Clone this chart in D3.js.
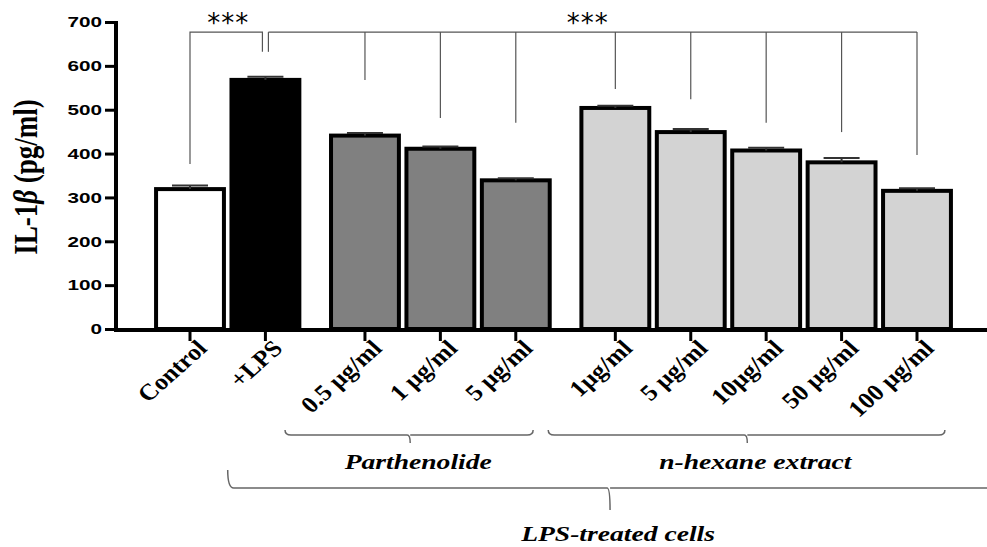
<!DOCTYPE html>
<html>
<head>
<meta charset="utf-8">
<script src="https://cdn.jsdelivr.net/npm/d3@7"></script>
<style>
  body { margin: 0; background: #fff; }
  svg { display: block; }
</style>
</head>
<body>
<script>
const w = 987;
const h = 547;
const SX = 1.38; // the original figure is stretched sideways, text follows it

// data
const categories = ["Control", "+LPS", "0.5 µg/ml", "1 µg/ml", "5 µg/ml",
  "1µg/ml", "5 µg/ml", "10µg/ml", "50 µg/ml", "100 µg/ml"];
const groups = ["none", "none", "parth", "parth", "parth", "hex", "hex", "hex", "hex", "hex"];
const kinds = ["control", "lps", "parth", "parth", "parth", "hex", "hex", "hex", "hex", "hex"];
const means = [319, 568, 441, 411, 339, 504, 449, 407, 380, 315];
const errors = [8, 7, 6, 5, 5, 5, 7, 6, 10, 6];
const yTicks = [0, 100, 200, 300, 400, 500, 600, 700];

// significance brackets: top level and where each leg stops (pg/ml)
const sigTop = 677;
const sigLeftLegs = [376, 632];               // Control, +LPS
const sigRightLegs = [632, 568, 481, 470, 547, 524, 470, 449, 397]; // +LPS .. 100 µg/ml
const sigStars = ["***", "***"];

// group brackets below the axis (in slot units)
const groupBrackets = [
  { label: "Parthenolide", from: 1.26, to: 4.55, mid: 2.92, level: 0 },
  { label: "n-hexane extract", from: 4.75, to: 10.01, mid: 7.39, level: 0 },
  { label: "LPS-treated cells", from: 0.5, to: 10.7, mid: 5.57, level: 1 }
];

const fills = { control: "#ffffff", lps: "#000000", parth: "#808080", hex: "#d3d3d3" };

const svg = d3.select("body").append("svg")
  .attr("width", w)
  .attr("height", h);

const axisX = 116;
const groupIndex = { none: 0, parth: 1, hex: 2 };
const slots = categories.map((c, i) => i + 0.32 * groupIndex[groups[i]]);

const x = d3.scaleLinear()
  .domain([0, d3.max(slots)])
  .range([190, 917]);
const step = x(1) - x(0);
const bw = step * 0.9;

const y = d3.scaleLinear()
  .domain([0, 700])
  .range([329, 22]);

// y axis
const yAxis = svg.append("g")
  .attr("transform", "translate(" + axisX + ",0)")
  .call(d3.axisLeft(y).tickValues(yTicks).tickSize(11).tickSizeOuter(0).tickFormat(d3.format("d")));
yAxis.select(".domain").attr("stroke-width", 4).attr("d", "M0," + (y(0) + 2) + "V" + (y(700) - 1));
yAxis.selectAll(".tick line").attr("stroke-width", 3);
yAxis.selectAll(".tick text")
  .attr("x", null)
  .attr("transform", "translate(-14,0) scale(" + SX + ",1)")
  .style("font-family", "'Liberation Sans', Arial, sans-serif")
  .style("font-weight", "bold")
  .style("font-size", "15px")
  .attr("fill", "#000");

// y label
const ylab = svg.append("text")
  .attr("transform", "translate(37,177) scale(1.25,1) rotate(-90)")
  .attr("text-anchor", "middle")
  .style("font-family", "'Liberation Serif', 'Times New Roman', serif")
  .style("font-weight", "bold")
  .style("font-size", "27px");
ylab.append("tspan").text("IL-1");
ylab.append("tspan").style("font-style", "italic").text("β");
ylab.append("tspan").text(" (pg/ml)");

// bars
svg.append("g")
  .selectAll("rect")
  .data(means)
  .enter()
  .append("rect")
  .attr("x", (d, i) => x(slots[i]) - bw / 2)
  .attr("y", d => y(d))
  .attr("width", bw)
  .attr("height", d => y(0) - y(d))
  .attr("fill", (d, i) => fills[kinds[i]])
  .attr("stroke", "#000")
  .attr("stroke-width", 4);

// error bars (upper cap only)
const err = svg.append("g").attr("stroke", "#333").attr("stroke-width", 2);
means.forEach((m, i) => {
  const cx = x(slots[i]);
  err.append("line")
    .attr("x1", cx).attr("x2", cx)
    .attr("y1", y(m)).attr("y2", y(m + errors[i]));
  err.append("line")
    .attr("x1", cx - 18).attr("x2", cx + 18)
    .attr("y1", y(m + errors[i])).attr("y2", y(m + errors[i]));
});

// x baseline + ticks
svg.append("line")
  .attr("x1", axisX - 2).attr("x2", w)
  .attr("y1", y(0) + 1).attr("y2", y(0) + 1)
  .attr("stroke", "#000").attr("stroke-width", 4);

svg.append("g")
  .selectAll("line")
  .data(slots)
  .enter()
  .append("line")
  .attr("x1", d => x(d)).attr("x2", d => x(d))
  .attr("y1", y(0) + 2).attr("y2", y(0) + 12)
  .attr("stroke", "#000").attr("stroke-width", 3);

// x labels
svg.append("g")
  .selectAll("text")
  .data(categories)
  .enter()
  .append("text")
  .attr("transform", (d, i) => "translate(" + (x(slots[i]) + 12) + "," + (y(0) + 15) + ") scale(1.12,1) rotate(-45)")
  .attr("text-anchor", "end")
  .attr("dy", "0.35em")
  .style("font-family", "'Liberation Serif', 'Times New Roman', serif")
  .style("font-weight", "bold")
  .style("font-size", "23px")
  .text(d => d);

// significance brackets
const sig = svg.append("g").attr("fill", "none").attr("stroke", "#555").attr("stroke-width", 1.2);
const leftXs = [x(slots[0]), x(slots[1]) - 3];
const rightXs = [x(slots[1]) + 3].concat(slots.slice(2).map(s => x(s)));

sig.append("path")
  .attr("d", "M" + leftXs[0] + "," + y(sigLeftLegs[0]) + "V" + y(sigTop) + "H" + leftXs[1] + "V" + y(sigLeftLegs[1]));
sig.append("line")
  .attr("x1", rightXs[0]).attr("x2", rightXs[rightXs.length - 1])
  .attr("y1", y(sigTop)).attr("y2", y(sigTop));
rightXs.forEach((px, i) => {
  sig.append("line")
    .attr("x1", px).attr("x2", px)
    .attr("y1", y(sigTop)).attr("y2", y(sigRightLegs[i]));
});

svg.selectAll(".stars")
  .data(sigStars)
  .enter()
  .append("text")
  .attr("class", "stars")
  .attr("x", (d, i) => i == 0 ? (leftXs[0] + leftXs[1]) / 2 + 2 : (rightXs[0] + rightXs[rightXs.length - 1]) / 2 - 5)
  .attr("y", y(sigTop))
  .attr("text-anchor", "middle")
  .style("font-family", "'DejaVu Sans', sans-serif")
  .style("font-size", "26px")
  .style("letter-spacing", "1px")
  .text(d => d);

// group brackets
const levelY = [435, 488];
const labelY = [469, 541];
const gb = svg.append("g");
groupBrackets.forEach(b => {
  const by = levelY[b.level];
  const lift = b.level == 0 ? 5 : 18;
  const x0 = x(b.from), x1 = x(b.to), xm = x(b.mid);
  gb.append("path")
    .attr("d", "M" + x0 + "," + (by - lift) + "Q" + x0 + "," + by + " " + (x0 + 6) + "," + by +
      "H" + (xm - 3) + "Q" + xm + "," + by + " " + xm + "," + (by + (b.level == 0 ? 8 : 22)) +
      "M" + xm + "," + by + "H" + (x1 - 6) + "Q" + x1 + "," + by + " " + x1 + "," + (by - lift))
    .attr("fill", "none")
    .attr("stroke", "#666")
    .attr("stroke-width", 1.5);
  gb.append("text")
    .attr("transform", "translate(" + (xm + 8) + "," + labelY[b.level] + ") scale(" + SX + ",1)")
    .attr("text-anchor", "middle")
    .style("font-family", "'Liberation Serif', 'Times New Roman', serif")
    .style("font-weight", "bold")
    .style("font-style", "italic")
    .style("font-size", "20px")
    .text(b.label);
});
</script>
</body>
</html>
